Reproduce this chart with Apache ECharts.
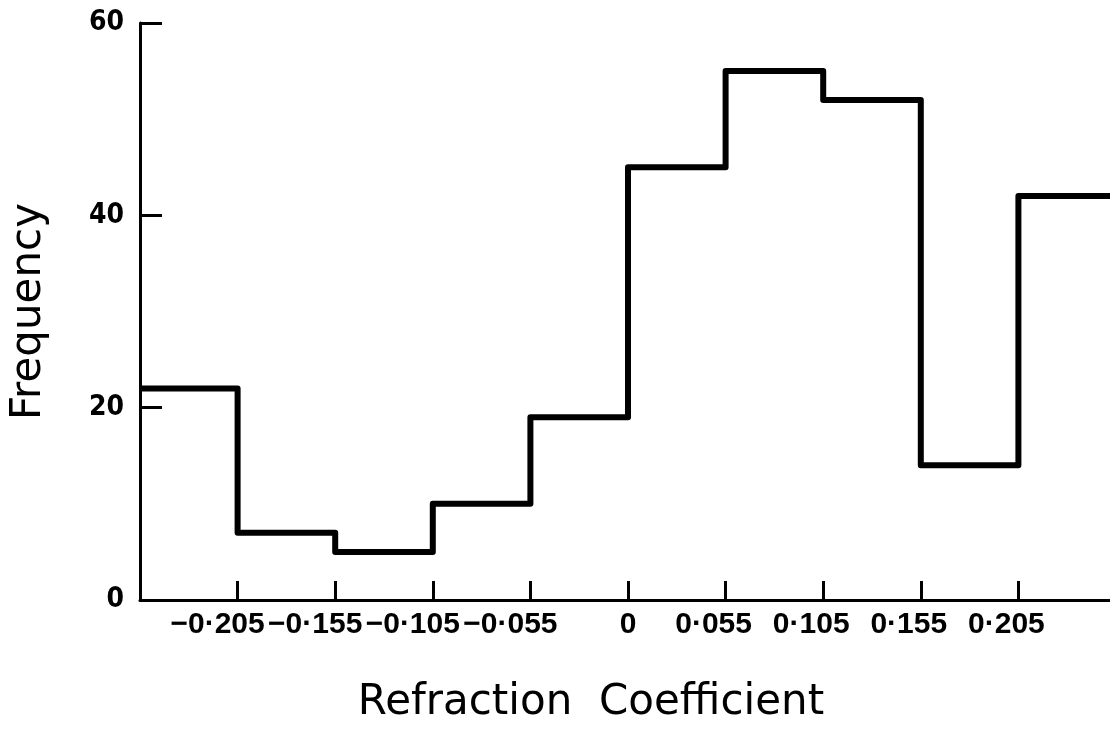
<!DOCTYPE html>
<html>
<head>
<meta charset="utf-8">
<script src="https://cdn.jsdelivr.net/npm/echarts@6/dist/echarts.min.js"></script>
<style>html,body{margin:0;padding:0;background:#fff}#c{width:1110px;height:729px}</style>
</head>
<body>
<div id="c"></div>
<script>
// Bin boundary tick labels (boundaries 0..10)
var tickLabels = ["", "−0·205", "−0·155", "−0·105", "−0·055", "0", "0·055", "0·105", "0·155", "0·205", ""];
// Frequency per bin (10 bins)
var frequency = [22, 7, 5, 10, 19, 45, 55, 52, 14, 42];
var yTicks = [0, 20, 40, 60];

var stepData = frequency.map(function (v, i) { return [i, v]; });
stepData.push([frequency.length, frequency[frequency.length - 1]]);

var yFont = "DejaVu Sans Condensed";
var xFont = "Liberation Sans";
var titleFont = "DejaVu Sans";
var chart = echarts.init(document.getElementById('c'), null, {renderer: 'canvas'});
var labStyle = {fontFamily: xFont, fontWeight: 'bold', fontSize: 30, color: '#000'};
chart.setOption({
  animation: false,
  backgroundColor: '#fff',
  grid: {left: 140, right: -6, top: 23, bottom: 129, containLabel: false, outerBoundsMode: 'none'},
  xAxis: {
    type: 'value', min: 0, max: tickLabels.length - 1, interval: 1,
    name: 'Refraction  Coefficient', nameLocation: 'middle', nameGap: 82,
    nameTextStyle: {fontFamily: titleFont, fontSize: 42, color: '#000', padding: [0, 74, 0, 0]},
    axisLine: {lineStyle: {color: '#000', width: 3}},
    axisTick: {show: true, inside: true, length: 19, lineStyle: {color: '#000', width: 3},
      customValues: [1, 2, 3, 4, 5, 6, 7, 8, 9]},
    splitLine: {show: false},
    axisLabel: {
      margin: 10, color: '#000', fontFamily: xFont, fontWeight: 'bold', fontSize: 30,
      hideOverlap: false, showMinLabel: true, showMaxLabel: true,
      customValues: [1, 2, 3, 4, 5, 6, 7, 8, 9],
      formatter: function (v) {
        var t = tickLabels[Math.round(v)] || '';
        if (t.charAt(0) === '−') return '{n|' + t + '}';
        if (t === '0') return '{z|' + t + '}';
        return '{p|' + t + '}';
      },
      rich: {
        n: Object.assign({padding: [0, 40, 0, 0]}, labStyle),
        p: Object.assign({padding: [0, 24, 0, 0]}, labStyle),
        z: Object.assign({}, labStyle)
      }
    }
  },
  yAxis: {
    type: 'value', min: yTicks[0], max: yTicks[yTicks.length - 1], interval: 20,
    name: 'Frequency', nameLocation: 'middle', nameGap: 90, nameRotate: 90,
    nameTextStyle: {fontFamily: titleFont, fontSize: 42, color: '#000'},
    axisLine: {show: true, lineStyle: {color: '#000', width: 3}},
    axisTick: {show: true, inside: true, length: 22, lineStyle: {color: '#000', width: 3}},
    splitLine: {show: false},
    axisLabel: {margin: 16, color: '#000', fontFamily: yFont, fontWeight: 'bold', fontSize: 28}
  },
  series: [{
    type: 'line', step: 'end', data: stepData, symbol: 'none', clip: true,
    lineStyle: {color: '#000', width: 6, join: 'round', cap: 'butt'}
  }]
});
</script>
</body>
</html>
